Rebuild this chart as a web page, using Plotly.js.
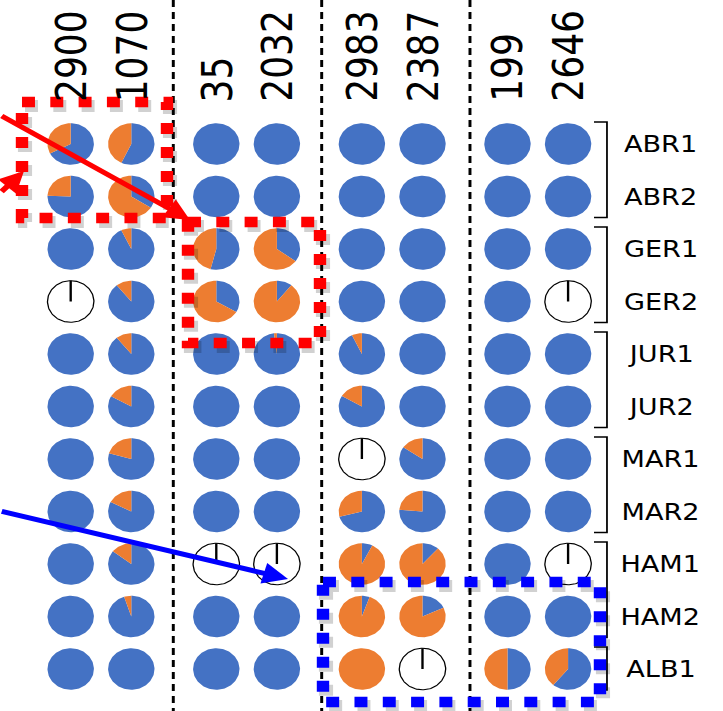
<!DOCTYPE html>
<html><head><meta charset="utf-8">
<script src="https://cdn.plot.ly/plotly-3.0.1.min.js"></script>
<style>
html,body{margin:0;padding:0;background:#fff;overflow:hidden}
#wrap{width:723px;height:711px;overflow:hidden;position:relative}
#chart{width:613px;height:711px;transform:scaleX(1.1794);transform-origin:0 0}
</style></head><body><div id="wrap"><div id="chart"></div></div>
<script>
// ---- data ----
const columns = ['2900','1070','35','2032','2983','2387','199','2646'];
const rowLabels = ['ABR1','ABR2','GER1','GER2','JUR1','JUR2','MAR1','MAR2','HAM1','HAM2','ALB1'];
// share of the orange slice in each pie, rows top to bottom (null = empty pie)
const orange_2900 = [0.325, 0.245, 0, null, 0, 0, 0, 0, 0, 0, 0];
const orange_1070 = [0.43, 0.66, 0.071, 0.108, 0.108, 0.169, 0.205, 0.175, 0.146, 0.05, 0];
const orange_35   = [0, 0, 0.46, 0.665, 0, 0, 0, 0, null, 0, 0];
const orange_2032 = [0, 0, 0.65, 0.893, 0.02, 0, 0, 0, null, 0, 0];
const orange_2983 = [0, 0, 0, 0, 0.07, 0.165, null, 0.29, 0.926, 0.946, 1];
const orange_2387 = [0, 0, 0, 0, 0, 0, 0.155, 0.237, 0.884, 0.82, null];
const orange_199  = [0, 0, 0, 0, 0, 0, 0, 0, 0, 0, 0.5];
const orange_2646 = [0, 0, 0, null, 0, 0, 0, 0, null, 0, 0.39];
const orangeByColumn = [orange_2900, orange_1070, orange_35, orange_2032, orange_2983, orange_2387, orange_199, orange_2646];
// row groups marked with brackets (first row, last row)
const bracketGroups = [[0,1],[2,3],[4,5],[6,7],[8,9],[10,10]];

// ---- layout geometry (screen-pixel-like data space) ----
const colX = c => 70.7 + Math.floor(c/2)*145.6 + (c%2)*60.6;
const rowY = r => 144 + r*52.5;
const RX = 23.2, RY = 20.8;
const BLUE = '#4472C4', ORANGE = '#ED7D31';

function wedge(cx, cy, a0, a1, X, Y) {
  const full = (a1 - a0) >= 1 - 1e-9;
  const n = Math.max(2, Math.ceil((a1 - a0) * 120));
  if (!full) { X.push(cx); Y.push(cy); }
  for (let i = 0; i <= n; i++) {
    const t = 2*Math.PI*(a0 + (a1 - a0)*i/n);
    X.push(cx + RX*Math.sin(t)); Y.push(cy - RY*Math.cos(t));
  }
  if (!full) { X.push(cx); Y.push(cy); }
  X.push(null); Y.push(null);
}

const bx=[], by=[], ox=[], oy=[], ex=[], ey=[], lx=[], ly=[];
orangeByColumn.forEach((vals, c) => {
  vals.forEach((v, r) => {
    const cx = colX(c), cy = rowY(r);
    if (v === null) {
      wedge(cx, cy, 0, 1, ex, ey);
      lx.push(cx, cx, null); ly.push(cy, cy - RY, null);
      return;
    }
    const b = 1 - v;
    if (b > 0) wedge(cx, cy, 0, b, bx, by);
    if (v > 0) wedge(cx, cy, b, 1, ox, oy);
  });
});

const traces = [
  {x: bx, y: by, mode:'lines', fill:'toself', fillcolor:BLUE, line:{width:0, color:BLUE}, hoverinfo:'skip', showlegend:false},
  {x: ox, y: oy, mode:'lines', fill:'toself', fillcolor:ORANGE, line:{width:0, color:ORANGE}, hoverinfo:'skip', showlegend:false},
  {x: ex, y: ey, mode:'lines', fill:'toself', fillcolor:'#ffffff', line:{width:1.1, color:'#000'}, hoverinfo:'skip', showlegend:false},
  {x: lx, y: ly, mode:'lines', line:{width:2, color:'#000'}, hoverinfo:'skip', showlegend:false}
];

const shapes = [];
// dashed separators between column groups
[173.3, 321.7, 470].forEach(x => shapes.push({type:'line', xref:'x', yref:'y', x0:x, x1:x, y0:0, y1:711,
  line:{color:'#000', width:2.5, dash:'7px,5px'}}));
// brackets
bracketGroups.forEach(([a, b]) => {
  const y0 = rowY(a) - 22, y1 = rowY(b) + 21;
  shapes.push({type:'path', xref:'x', yref:'y', path:`M 594,${y0} H 607 V ${y1} H 594`,
    line:{color:'#000', width:1.5}});
});
// highlight boxes with shadow
function dottedBox(x0, y0, x1, y1, color) {
  shapes.push({type:'rect', xref:'x', yref:'y', x0:x0+3, x1:x1+3, y0:y0+4, y1:y1+4,
    line:{color:'rgba(0,0,0,0.18)', width:12, dash:'11px,13px'}});
  shapes.push({type:'rect', xref:'x', yref:'y', x0, x1, y0, y1,
    line:{color, width:10.5, dash:'11px,13px'}});
}
dottedBox(22, 102, 167, 218, '#FF0000');
dottedBox(188, 222, 320, 343, '#FF0000');
dottedBox(323, 582, 600, 702, '#0000FF');

const annotations = [];
columns.forEach((t, c) => annotations.push({xref:'x', yref:'y', x:colX(c), y:104, text:t, showarrow:false,
  textangle:-90, xanchor:'center', yanchor:'bottom', font:{family:'DejaVu Sans', size:36, color:'#000'}}));
rowLabels.forEach((t, r) => annotations.push({xref:'x', yref:'y', x:661, y:rowY(r), text:t, showarrow:false,
  xanchor:'center', yanchor:'middle', font:{family:'DejaVu Sans', size:23, color:'#000'}}));
// arrows
function arrow(x0, y0, x1, y1, color) {
  annotations.push({xref:'x', yref:'y', axref:'x', ayref:'y', x:x1, y:y1, ax:x0, ay:y0, text:'',
    showarrow:true, arrowhead:2, arrowsize:0.85, arrowwidth:5, arrowcolor:color});
}
arrow(0, 115, 190, 220, '#FF0000');
arrow(0, 193, 24, 171, '#FF0000');
arrow(0, 511, 288, 579, '#0000FF');

const layout = {
  width:613, height:711, margin:{l:0, r:0, t:0, b:0},
  paper_bgcolor:'#fff', plot_bgcolor:'#fff',
  xaxis:{range:[0,723], visible:false, fixedrange:true},
  yaxis:{range:[711,0], visible:false, fixedrange:true},
  shapes, annotations, showlegend:false
};
Plotly.newPlot('chart', traces, layout, {staticPlot:true, displayModeBar:false});
</script></body></html>
